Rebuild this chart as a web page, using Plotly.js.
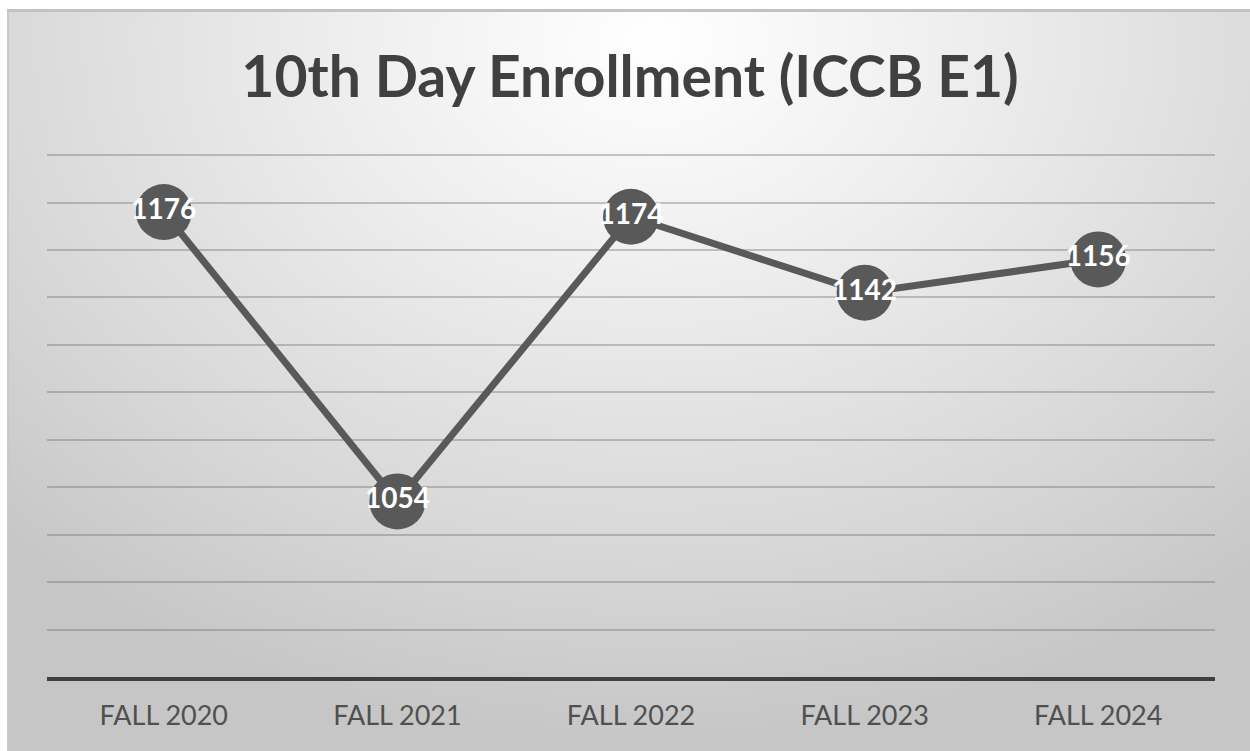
<!DOCTYPE html>
<html>
<head>
<meta charset="utf-8">
<script src="https://cdn.plot.ly/plotly-3.0.1.min.js"></script>
<style>
html,body{margin:0;padding:0;background:#ffffff;width:1250px;height:751px;overflow:hidden;}
#bg{position:absolute;left:7px;top:9px;width:1243px;height:742px;box-sizing:border-box;border-top:3px solid #c2c2c2;border-left:2px solid #c8c8c8;
background:radial-gradient(ellipse 75% 95% at 52% 4%, #ffffff 0%, #ededed 35%, #d6d6d6 75%, #c6c6c6 100%);}
#chart{position:absolute;left:0;top:0;width:1250px;height:751px;}
</style>
</head>
<body>
<div id="bg"></div>
<div id="chart"></div>
<script>
const categories = ["FALL 2020", "FALL 2021", "FALL 2022", "FALL 2023", "FALL 2024"];
const enrollment = [1176, 1054, 1174, 1142, 1156];
const titleText = "10th Day Enrollment (ICCB E1)";

const trace = {
  type: "scatter",
  mode: "lines+markers+text",
  x: categories,
  y: enrollment,
  text: enrollment.map(String),
  textposition: "middle center",
  textfont: {family: "Lato, 'Open Sans', sans-serif", size: 28, color: "#ffffff", weight: "bold"},
  line: {color: "#595959", width: 7},
  marker: {color: "#595959", size: 56, line: {width: 0}},
  hoverinfo: "skip",
  cliponaxis: false
};

const layout = {
  width: 1250,
  height: 751,
  margin: {l: 47, r: 35, t: 154, b: 74},
  paper_bgcolor: "rgba(0,0,0,0)",
  plot_bgcolor: "rgba(0,0,0,0)",
  showlegend: false,
  title: {
    text: "<b>" + titleText + "</b>",
    font: {family: "Lato, 'Open Sans', sans-serif", size: 57, color: "#404040"},
    x: 0.504, xanchor: "center",
    y: 0.897, yanchor: "middle"
  },
  xaxis: {
    type: "category",
    range: [-0.5, 4.5],
    showgrid: false,
    showline: true,
    linecolor: "#404040",
    linewidth: 4,
    ticks: "",
    tickfont: {family: "Lato, 'Open Sans', sans-serif", size: 27, color: "#505050"},
    ticklabelstandoff: 12,
    fixedrange: true
  },
  yaxis: {
    range: [980, 1200.45],
    dtick: 20,
    tick0: 980,
    showticklabels: false,
    showgrid: true,
    gridcolor: "rgba(100,100,100,0.35)",
    gridwidth: 2,
    zeroline: false,
    showline: false,
    ticks: "",
    fixedrange: true
  }
};

Plotly.newPlot("chart", [trace], layout, {displayModeBar: false, staticPlot: true});
</script>
</body>
</html>
